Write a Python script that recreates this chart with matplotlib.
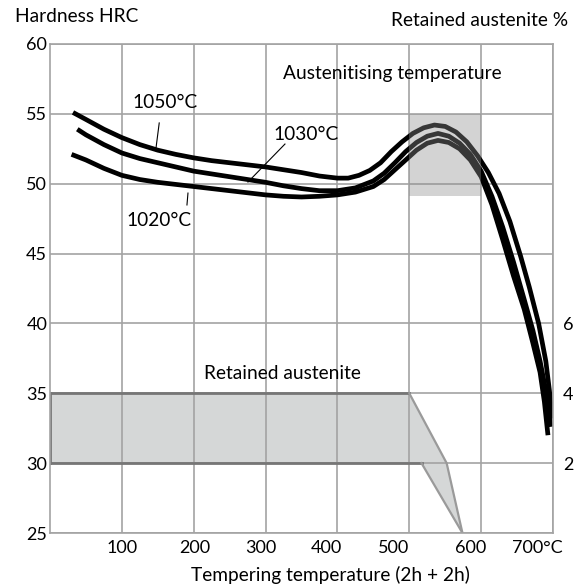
import matplotlib
matplotlib.use("agg")
import matplotlib.pyplot as plt
import matplotlib.transforms as mtransforms
from matplotlib.patches import Polygon, Rectangle

plt.rcParams["font.family"] = ["Lato", "DejaVu Sans"]

# hardness curves (tempering temp degC, HRC)
temp_1050 = [32, 50, 75, 100, 125, 150, 175, 200, 225, 250, 275, 300, 325, 350, 375, 400, 415,
             430, 445, 460, 475, 490, 505, 520, 535, 550, 565, 580, 595, 610, 625, 640, 655,
             667, 680, 690, 695, 699]
hrc_1050 = [55.1, 54.6, 53.9, 53.3, 52.8, 52.4, 52.1, 51.85, 51.65, 51.5, 51.35, 51.2, 51.0,
            50.8, 50.55, 50.4, 50.4, 50.6, 50.95, 51.5, 52.3, 53.0, 53.6, 54.0, 54.2, 54.1,
            53.7, 53.0, 52.0, 50.8, 49.3, 47.3, 44.8, 42.6, 40.0, 37.3, 35.2, 33.2]

temp_1030 = [38, 50, 75, 100, 125, 150, 175, 200, 225, 250, 275, 300, 325, 350, 375, 400, 425,
             450, 465, 480, 495, 510, 525, 540, 555, 570, 585, 600, 615, 630, 645, 660, 672,
             682, 690, 697]
hrc_1030 = [53.9, 53.5, 52.8, 52.2, 51.8, 51.5, 51.2, 50.9, 50.7, 50.5, 50.3, 50.1, 49.85,
            49.65, 49.5, 49.5, 49.7, 50.2, 50.75, 51.5, 52.3, 52.95, 53.4, 53.6, 53.4, 52.9,
            52.1, 50.9, 49.1, 46.9, 44.4, 41.7, 39.5, 37.3, 35.2, 32.6]

temp_1020 = [30, 50, 75, 100, 125, 150, 175, 200, 225, 250, 275, 300, 325, 350, 375, 400, 425,
             450, 465, 480, 495, 510, 525, 540, 555, 570, 585, 600, 615, 630, 645, 660, 672,
             682, 688, 693]
hrc_1020 = [52.1, 51.7, 51.1, 50.6, 50.3, 50.1, 49.95, 49.8, 49.65, 49.5, 49.35, 49.2, 49.1,
            49.05, 49.1, 49.2, 49.4, 49.8, 50.3, 51.0, 51.7, 52.4, 52.9, 53.1, 52.95, 52.5,
            51.7, 50.5, 48.5, 46.0, 43.4, 41.0, 38.6, 36.5, 34.4, 32.0]

# retained austenite band (on the HRC scale)
band_upper_t = [0, 500, 552, 574]
band_upper_v = [35, 35, 30, 25]
band_lower_t = [0, 517, 574]
band_lower_v = [30, 30, 25]

# austenitising temperature window
aust_t = (500, 600)
aust_hrc = (49.1, 55)

x_ticks = [100, 200, 300, 400, 500, 600, 700]
x_labels = ["100", "200", "300", "400", "500", "600", "700°C"]
x_label_shift = [0, 1, -5, -11, -16, -11, -16]  # px, labels sit a bit left in the original
y_ticks = [25, 30, 35, 40, 45, 50, 55, 60]
ra_ticks = [2, 4, 6]

grid_col = "#a3a3a3"
fs = 13.8
fs_tick = 13

fig = plt.figure(figsize=(5.84, 5.87), dpi=100)
ax = fig.add_axes([50 / 584, 1 - 533 / 587, 503 / 584, 489 / 587])
ax.set_xlim(0, 700)
ax.set_ylim(25, 60)

# band
band_pts = list(zip(band_upper_t, band_upper_v)) + list(zip(band_lower_t, band_lower_v))[::-1]
ax.add_patch(Polygon(band_pts, closed=True, facecolor="#d5d7d7", edgecolor="none", zorder=0.3))
ax.plot(band_upper_t[:2], band_upper_v[:2], color="#767676", lw=2, zorder=0.6)
ax.plot(band_lower_t[:2], band_lower_v[:2], color="#767676", lw=2, zorder=0.6)
ax.plot([0, 0], [30, 35], color="#767676", lw=2, zorder=0.6)
ax.plot(band_upper_t[1:], band_upper_v[1:], color="#9a9a9a", lw=1.6, zorder=0.6)
ax.plot(band_lower_t[1:], band_lower_v[1:], color="#9a9a9a", lw=1.6, zorder=0.6)

for t, h in [(temp_1050, hrc_1050), (temp_1030, hrc_1030), (temp_1020, hrc_1020)]:
    ax.plot(t, h, color="black", lw=3.4, solid_capstyle="butt", solid_joinstyle="round", zorder=2)

# the window is laid over the curves, so they turn dark grey inside it
ax.add_patch(Rectangle((aust_t[0], aust_hrc[0]), aust_t[1] - aust_t[0], aust_hrc[1] - aust_hrc[0],
                       facecolor="#8e8e8e", alpha=0.39, edgecolor="none", zorder=3))

ax.set_axisbelow(True)
ax.grid(True, color=grid_col, lw=1.2)
for s in ax.spines.values():
    s.set_color(grid_col)
    s.set_linewidth(1.2)

ax.set_xticks(x_ticks)
ax.set_xticklabels(x_labels)
ax.set_yticks(y_ticks)
ax.tick_params(length=0, labelsize=fs_tick, colors="black")
ax.tick_params(axis="x", pad=5)
ax.tick_params(axis="y", pad=2)
for lab, dx in zip(ax.get_xticklabels(), x_label_shift):
    lab.set_transform(lab.get_transform() + mtransforms.ScaledTranslation(dx / 100, 0, fig.dpi_scale_trans))

ax2 = ax.twinx()
ax2.set_ylim((25 - 25) * 0.4, (60 - 25) * 0.4)
ax2.set_yticks(ra_ticks)
ax2.tick_params(length=0, labelsize=fs_tick, pad=7)
for s in ax2.spines.values():
    s.set_visible(False)

# curve labels with leader lines
ax.text(160, 55.8, "1050°C", fontsize=fs, ha="center", va="center")
ax.plot([152, 147.5], [54.35, 52.55], color="black", lw=0.8)
ax.text(357, 53.5, "1030°C", fontsize=fs, ha="center", va="center")
ax.plot([327, 275.5], [52.84, 50.12], color="black", lw=0.8)
ax.text(152, 47.4, "1020°C", fontsize=fs, ha="center", va="center")
ax.plot([192, 190.6], [49.33, 48.48], color="black", lw=0.8)

ax.text(477, 57.9, "Austenitising temperature", fontsize=fs, ha="center", va="center")
ax.text(323, 36.45, "Retained austenite", fontsize=fs, ha="center", va="center")

fig.text(15 / 584, 1 - 16 / 587, "Hardness HRC", fontsize=fs, ha="left", va="center")
fig.text(568 / 584, 1 - 20 / 587, "Retained austenite %", fontsize=fs, ha="right", va="center")
fig.text(330 / 584, 1 - 575 / 587, "Tempering temperature (2h + 2h)", fontsize=fs, ha="center", va="center")

fig.savefig("out.png", dpi=100)
